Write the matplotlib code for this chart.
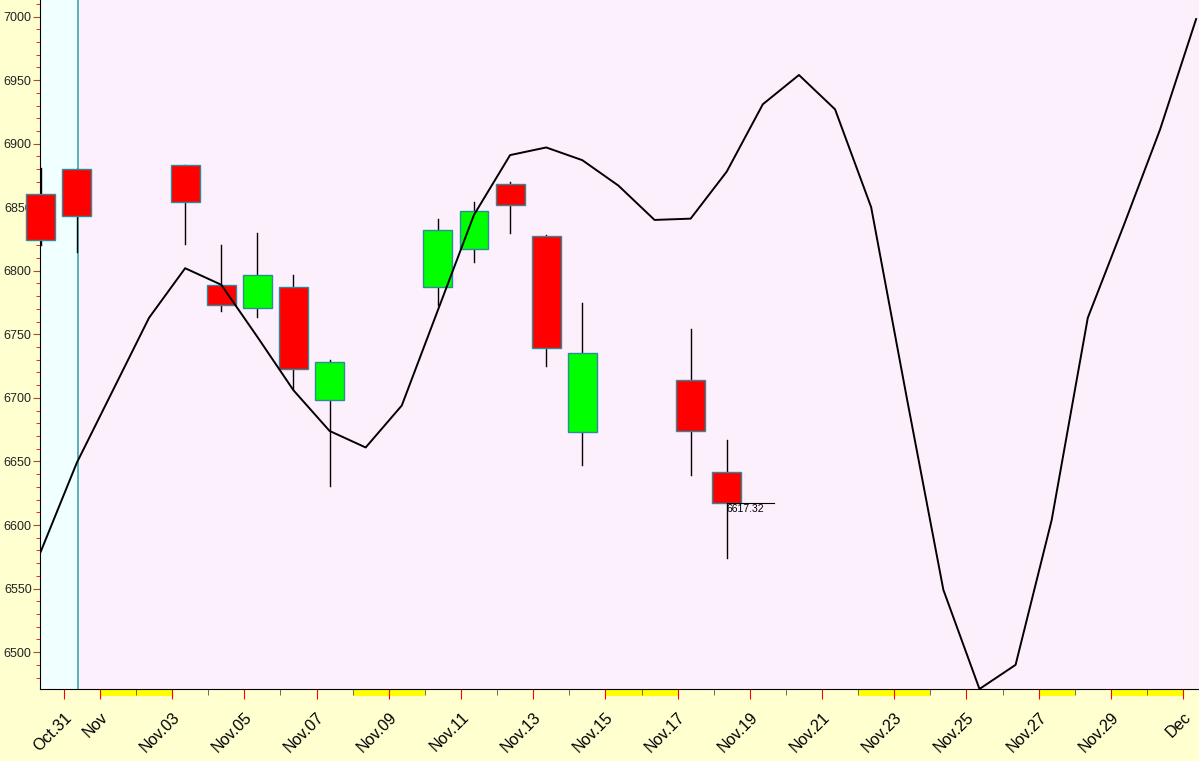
import matplotlib.pyplot as plt
from matplotlib.patches import Rectangle
from matplotlib.ticker import MultipleLocator

plt.rcParams['font.family'] = ['Liberation Sans', 'DejaVu Sans']

# day index: Oct 31 = 0
candle_days = [-1, 0, 3, 4, 5, 6, 7, 10, 11, 12, 13, 14, 17, 18]
opens  = [6860, 6880, 6883, 6789, 6771, 6787, 6698, 6787, 6817, 6868, 6827, 6673, 6714, 6642]
highs  = [6881, 6880, 6883, 6820, 6830, 6797, 6730, 6841, 6854, 6870, 6828, 6775, 6754, 6667]
lows   = [6820, 6815, 6821, 6768, 6764, 6707, 6631, 6773, 6807, 6830, 6725, 6647, 6639, 6574]
closes = [6824, 6843, 6854, 6773, 6797, 6723, 6728, 6832, 6847, 6852, 6739, 6735, 6674, 6617.32]

line_days = list(range(-1, 32))
line_vals = [6579, 6649, 6706, 6763, 6802, 6789, 6748, 6706, 6674, 6661, 6694, 6769, 6844,
             6891, 6897, 6887, 6867, 6840, 6841, 6878, 6931, 6954, 6927, 6850, 6698, 6549,
             6471, 6490, 6604, 6763, 6836, 6911, 6998]

tick_days = [0, 1, 3, 5, 7, 9, 11, 13, 15, 17, 19, 21, 23, 25, 27, 29, 31]
tick_labels = ['Oct.31', 'Nov', 'Nov.03', 'Nov.05', 'Nov.07', 'Nov.09', 'Nov.11', 'Nov.13',
               'Nov.15', 'Nov.17', 'Nov.19', 'Nov.21', 'Nov.23', 'Nov.25', 'Nov.27', 'Nov.29', 'Dec']
yellow_spans = [(1, 3), (8, 10), (15, 17), (22, 24), (27, 28), (29, 31)]

OFF = 0.36
BG = '#FFFFD0'
PLOT_BG = '#FDF0FD'

fig = plt.figure(figsize=(11.99, 7.61), dpi=100)
fig.patch.set_facecolor(BG)
ax = fig.add_axes([40 / 1199, 72 / 761, 1159 / 1199, 689 / 761])
ax.set_facecolor(PLOT_BG)
ax.set_xlim(-0.66, 31.44)
ax.set_ylim(6471, 7013)

ax.axvspan(-0.66, 0.38, color='#F0FFFF', zorder=0)
ax.axvline(0.38, color='#4AAFAF', lw=1.3, zorder=1)

for d, o, h, l, c in zip(candle_days, opens, highs, lows, closes):
    x = d + OFF
    ax.plot([x, x], [l, h], color='black', lw=1, zorder=2, clip_on=False)
    col = '#00FF00' if c > o else '#FF0000'
    ax.add_patch(Rectangle((x - 0.4, min(o, c)), 0.8, abs(c - o), facecolor=col,
                           edgecolor='#2E8B9A', lw=1, zorder=3, clip_on=False))

last_x = candle_days[-1] + OFF
ax.plot([last_x, last_x + 1.3], [closes[-1], closes[-1]], color='black', lw=0.8, zorder=4)
ax.text(last_x, closes[-1] - 1, f'{closes[-1]:.2f}', fontsize=7.5, va='top', ha='left', zorder=5)

ax.plot([d + OFF for d in line_days], line_vals, color='black', lw=1.4, zorder=4, clip_on=True)

# yellow weekend bars under the axis
for a, b in yellow_spans:
    ax.add_patch(Rectangle((a, 6471 - 5.5), b - a, 5.5, facecolor='#FFFF00', edgecolor='none',
                           clip_on=False, zorder=1))

for s in ['top', 'right']:
    ax.spines[s].set_visible(False)
ax.spines['left'].set_color('black')
ax.spines['bottom'].set_color('black')

ax.set_xticks(tick_days)
ax.set_xticklabels(tick_labels, rotation=45, ha='right', rotation_mode='anchor', fontsize=11.5)
ax.set_xticks(range(0, 32), minor=True)
ax.tick_params(axis='x', which='major', length=7, color='red', pad=8)
ax.tick_params(axis='x', which='minor', length=4, color='#555555')

ax.yaxis.set_major_locator(MultipleLocator(50))
ax.yaxis.set_minor_locator(MultipleLocator(10))
ax.tick_params(axis='y', which='major', length=5, color='#A0522D', labelsize=9, pad=1,
               labelcolor='#222222')
ax.tick_params(axis='y', which='minor', length=3, color='red')

fig.savefig('out.png', dpi=100, facecolor=BG)
